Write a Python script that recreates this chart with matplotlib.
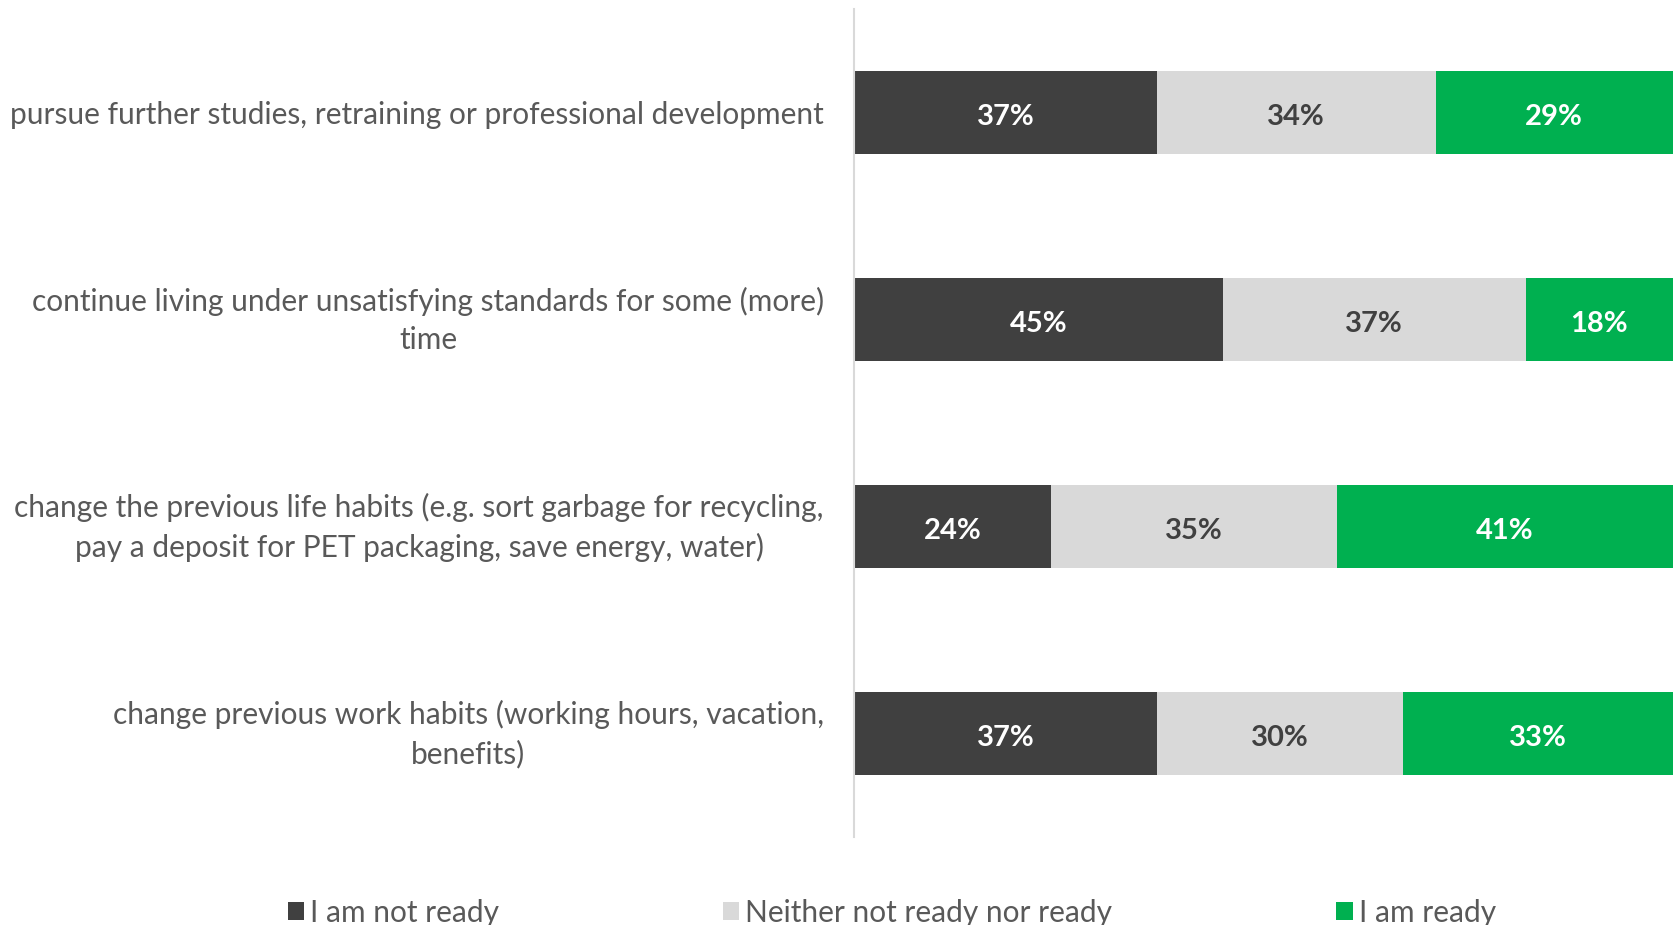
import numpy as np
import matplotlib
matplotlib.use("Agg")
import matplotlib.pyplot as plt
import matplotlib.transforms as mtransforms

categories = [
    "pursue further studies, retraining or professional development",
    "continue living under unsatisfying standards for some (more)\ntime",
    "change the previous life habits (e.g. sort garbage for recycling,\npay a deposit for PET packaging, save energy, water)",
    "change previous work habits (working hours, vacation,\nbenefits)",
]
series_names = ["I am not ready", "Neither not ready nor ready", "I am ready"]
not_ready = [37, 45, 24, 37]
neither = [34, 37, 35, 30]
ready = [29, 18, 41, 33]

colors = ["#404040", "#D9D9D9", "#00B050"]
text_colors = ["white", "#404040", "white"]
plt.rcParams["font.family"] = ["Lato", "DejaVu Sans"]
FS = 21.5

fig = plt.figure(figsize=(16.73, 9.25), dpi=100)
ax = fig.add_axes([0.5105, 0.095, 0.4895, 0.895])

y = np.arange(len(categories))
left = np.zeros(len(categories))
handles = []
for vals, name, c, tc in zip([not_ready, neither, ready], series_names, colors, text_colors):
    vals = np.array(vals, dtype=float)
    b = ax.barh(y, vals, left=left, height=0.4, color=c, label=name)
    handles.append(b)
    for yi, l, v in zip(y, left, vals):
        ax.text(l + v / 2, yi + 0.02, f"{v:.0f}%", ha="center", va="center",
                color=tc, fontsize=21, fontweight="bold")
    left += vals

ax.set_xlim(0, 100)
ax.set_ylim(len(categories) - 0.5, -0.5)
ax.set_yticks(y)
ax.set_yticklabels(categories, fontsize=FS, color="#595959", ha="center")
ax.tick_params(axis="y", length=0, pad=0)
for lab in ax.get_yticklabels():
    lab.set_multialignment("center")
    lab.set_linespacing(1.45)
ax.set_xticks([])
for s in ["top", "right", "bottom"]:
    ax.spines[s].set_visible(False)
ax.spines["left"].set_color("#D9D9D9")
ax.spines["left"].set_linewidth(1.5)

# right-align label blocks to a common edge (Excel style: centred lines, right edge fixed)
fig.canvas.draw()
renderer = fig.canvas.get_renderer()
edge = 824 / 1673
for lab in ax.get_yticklabels():
    bb = lab.get_window_extent(renderer)
    w = bb.width / fig.bbox.width
    dy = 5 / 72 if "\n" in lab.get_text() else 0
    tr = mtransforms.blended_transform_factory(fig.transFigure, ax.transData)
    lab.set_transform(tr + mtransforms.ScaledTranslation(0, dy, fig.dpi_scale_trans))
    lab.set_position((edge - w / 2, lab.get_position()[1]))

fig.legend(handles=handles, labels=series_names, loc="center",
           bbox_to_anchor=(0.533, 0.013), ncol=3, frameon=False,
           fontsize=FS, labelcolor="#595959", handlelength=0.55,
           handleheight=0.55, handletextpad=0.2, columnspacing=7.5)

fig.savefig("out.png", dpi=100)
